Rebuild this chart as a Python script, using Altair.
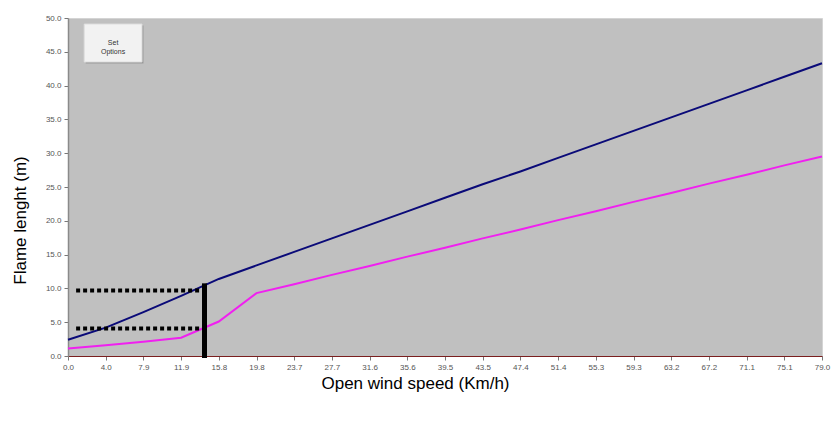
import altair as alt
import pandas as pd

# Data
wind = [0.0, 3.95, 7.9, 11.85, 15.8, 19.75, 23.7, 27.65, 31.6, 35.55, 39.5,
        43.45, 47.4, 51.35, 55.3, 59.25, 63.2, 67.15, 71.1, 75.05, 79.0]
tick_labels = ["0.0", "4.0", "7.9", "11.9", "15.8", "19.8", "23.7", "27.7", "31.6",
               "35.6", "39.5", "43.5", "47.4", "51.4", "55.3", "59.3", "63.2",
               "67.2", "71.1", "75.1", "79.0"]
flame_blue = [2.4, 4.2, 6.5, 8.9, 11.4, 13.4, 15.4, 17.4, 19.4, 21.4, 23.4,
              25.4, 27.3, 29.3, 31.3, 33.3, 35.3, 37.3, 39.3, 41.3, 43.3]
flame_magenta = [1.1, 1.6, 2.1, 2.7, 5.1, 9.3, 10.6, 12.0, 13.3, 14.7, 16.0,
                 17.4, 18.7, 20.1, 21.4, 22.8, 24.1, 25.5, 26.8, 28.2, 29.5]
y_ticks = [0, 5, 10, 15, 20, 25, 30, 35, 40, 45, 50]

# Reference markers (vertical wind line, dotted flame-length guides)
marker_wind = 14.3
marker_top = 10.75
guide_levels = [9.7, 4.05]
guide_start = 0.85
guide_end = 14.0

# "Set Options" button (in data units)
button_x = [1.7, 7.75]
button_y = [43.5, 49.1]

df = pd.DataFrame({"wind": wind, "blue": flame_blue, "magenta": flame_magenta})
label_expr = "[" + ",".join("'%s'" % t for t in tick_labels) + "][round(datum.value / 3.95)]"

x_scale = alt.Scale(domain=[0, 79], nice=False, zero=True)
y_scale = alt.Scale(domain=[0, 50], nice=False)

x_axis = alt.Axis(values=wind, labelExpr=label_expr, title="Open wind speed (Km/h)",
                  grid=False, domainColor="#7A1F1F", domainWidth=1.2,
                  tickColor="#777777", tickSize=4, labelFontSize=8,
                  labelColor="#555555", labelFont="Liberation Sans",
                  labelOverlap=False, labelFlush=False,
                  titleFont="Liberation Sans", titleFontSize=17,
                  titleFontWeight="normal", titleColor="#000000",
                  titleX=347, titleY=27, titleAlign="center",
                  titleBaseline="middle", labelPadding=3)
y_axis = alt.Axis(values=y_ticks, format=".1f",
                  title="Flame lenght (m)", grid=False, domainColor="#8A8A8A",
                  domainWidth=1.5, tickColor="#777777", tickSize=4,
                  labelFontSize=8, labelColor="#555555",
                  labelFont="Liberation Sans", labelOverlap=False,
                  labelFlush=False, titleFont="Liberation Sans",
                  titleFontSize=17, titleFontWeight="normal",
                  titleColor="#000000", titleX=-48, titleY=202,
                  titleAngle=-90, titleAlign="center", titleBaseline="middle",
                  labelPadding=3)


def X(field):
    return alt.X(field, scale=x_scale, axis=x_axis)


def Y(field):
    return alt.Y(field, scale=y_scale, axis=y_axis)


base = alt.Chart(df)

blue = base.mark_line(color="#0A0A78", strokeWidth=2).encode(
    x=X("wind:Q"), y=Y("blue:Q"),
)
magenta = base.mark_line(color="#F020F0", strokeWidth=2).encode(
    x=X("wind:Q"), y=Y("magenta:Q"),
)

guides_df = pd.DataFrame({"x1": [guide_start] * len(guide_levels),
                          "x2": [guide_end] * len(guide_levels),
                          "y": guide_levels})
guides = alt.Chart(guides_df).mark_rule(color="black", strokeWidth=4,
                                        strokeDash=[4, 3]).encode(
    x=X("x1:Q"), x2="x2:Q", y=Y("y:Q"),
)

vline_df = pd.DataFrame({"x": [marker_wind], "y1": [-0.3], "y2": [marker_top]})
vline = alt.Chart(vline_df).mark_rule(color="black", strokeWidth=5).encode(
    x=X("x:Q"), y=Y("y1:Q"), y2="y2:Q",
)

btn_df = pd.DataFrame({"x1": [button_x[0]], "x2": [button_x[1]],
                       "y1": [button_y[0]], "y2": [button_y[1]],
                       "xm": [(button_x[0] + button_x[1]) / 2],
                       "ym": [(button_y[0] + button_y[1]) / 2],
                       "label": ["Set\nOptions"]})
btn_shadow = alt.Chart(btn_df).mark_rect(fill="#9A9A9A", xOffset=1.5, yOffset=1.5,
                                         x2Offset=1.5, y2Offset=1.5).encode(
    x=X("x1:Q"), x2="x2:Q", y=Y("y1:Q"), y2="y2:Q",
)
btn = alt.Chart(btn_df).mark_rect(fill="#F2F2F2", stroke="#E0E0E0",
                                  strokeWidth=1).encode(
    x=X("x1:Q"), x2="x2:Q", y=Y("y1:Q"), y2="y2:Q",
)
btn_text = alt.Chart(btn_df).mark_text(fontSize=7, color="#333333",
                                       font="Liberation Sans", lineBreak="\n",
                                       lineHeight=9, baseline="middle").encode(
    x=X("xm:Q"), y=Y("ym:Q"), text="label:N",
)

chart = alt.layer(blue, magenta, guides, vline, btn_shadow, btn, btn_text).properties(
    width=754, height=338,
    autosize=alt.AutoSizeParams(type="none"),
    padding={"left": 68, "top": 18, "right": 11, "bottom": 65},
    background="white",
).configure_view(fill="#C0C0C0", stroke="#D4D4D4", strokeWidth=1)

chart.save("out.html", embed_options={"renderer": "svg", "actions": False})
